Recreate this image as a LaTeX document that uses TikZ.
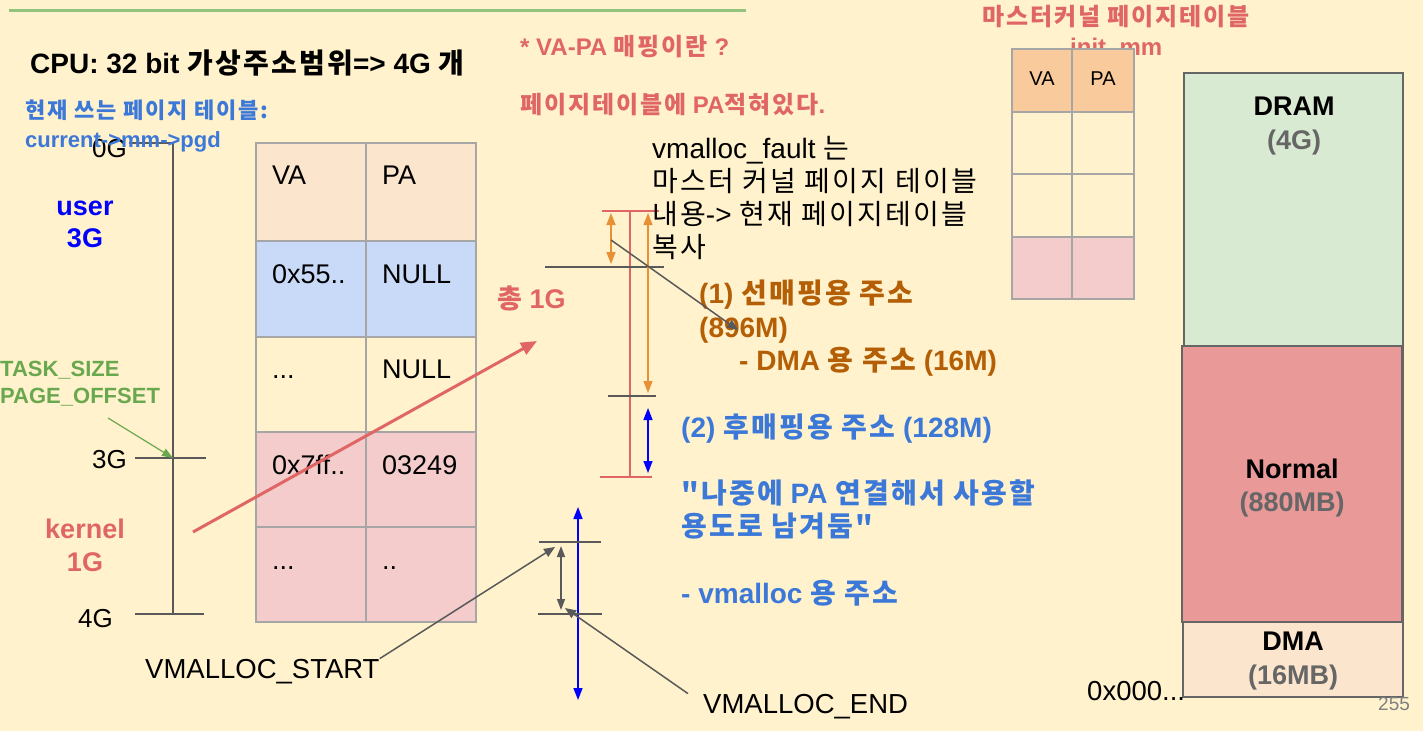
\documentclass[tikz,border=0pt]{standalone}
\usepackage{fontspec}
\setmainfont{Liberation Sans}
\newfontfamily\kr{Noto Sans CJK KR}[LetterSpace=8]
\usetikzlibrary{arrows.meta}

\newcommand\ko[1]{{\kr #1}}
\newcommand\px[1]{\fontsize{#1}{#1}\selectfont}

\definecolor{bg}{HTML}{FFF2CC}
\definecolor{rulegreen}{HTML}{93C47D}
\definecolor{textred}{HTML}{E06666}
\definecolor{textgreen}{HTML}{6AA84F}
\definecolor{textblue}{HTML}{3C78D8}
\definecolor{textorange}{HTML}{B45F06}
\definecolor{arroworange}{HTML}{E69138}
\definecolor{linegray}{HTML}{595959}
\definecolor{cellgray}{HTML}{A6A6A6}
\definecolor{hdrfill}{HTML}{FCE5CD}
\definecolor{bluefill}{HTML}{C9DAF8}
\definecolor{pinkfill}{HTML}{F4CCCC}
\definecolor{mhdrfill}{HTML}{F9CB9C}
\definecolor{dramfill}{HTML}{D9EAD3}
\definecolor{normalfill}{HTML}{EA9999}
\definecolor{boxgray}{HTML}{666666}

\tikzset{
  txt/.style={inner sep=0pt, anchor=base west},
  ctxt/.style={inner sep=0pt, anchor=base},
  rtxt/.style={inner sep=0pt, anchor=base east},
  tick/.style={draw=linegray, line width=1.5pt},
  cell/.style={draw=cellgray, line width=2pt},
  zone/.style={draw=boxgray, line width=2pt},
  pointer/.style={draw=linegray, line width=1.5pt, -{Triangle[length=11pt,width=9pt]}},
  span/.style={line width=1.5pt, {Triangle[length=12pt,width=9pt]}-{Triangle[length=12pt,width=9pt]}},
}

\begin{document}
\begin{tikzpicture}[x=1pt,y=-1pt]
  \useasboundingbox[fill=bg] (0,0) rectangle (1423,731);
  \draw[line width=3pt, rulegreen] (9,10) -- (746,10);

  % headings
  \node[txt, font=\bfseries\px{28}] (cpu) at (30,73) {CPU: 32 bit \ko{가상주소범위}=> 4G \ko{개}};
  \node[txt, font=\bfseries\px{22}, text=textblue] (curpt) at (25,118) {\ko{현재 쓰는 페이지 테이블:}};
  \node[txt, font=\bfseries\px{24}, text=textred] (vapa) at (520,55) {* VA-PA \ko{매핑이란} ?};
  \node[txt, font=\bfseries\px{24}, text=textred] (vapa2) at (520,113) {\ko{페이지테이블에} PA\ko{적혀있다}.};

  % address axis
  \coordinate (ax0) at (173,143);
  \coordinate (ax3) at (173,458);
  \coordinate (ax4) at (173,614);
  \draw[tick] (ax0) -- (ax4);
  \draw[tick] (129,143) -- (ax0);
  \draw[tick] (135,458) -- (206,458);
  \draw[tick] (135,614) -- (204,614);
  \node[rtxt, font=\px{26}] (g0) at (127,157) {0G};
  \node[rtxt, font=\px{26}] (g3) at (127,468) {3G};
  \node[rtxt, font=\px{26}] (g4) at (113,627) {4G};
  \node[txt, font=\bfseries\px{22}, text=textblue] (curpgd) at (25,147) {current->mm->pgd};

  \node[ctxt, font=\bfseries\px{27}, text=blue] (user) at (85,215) {user};
  \node[ctxt, font=\bfseries\px{27}, text=blue] (user3) at (85,247) {3G};
  \node[ctxt, font=\bfseries\px{27}, text=textred] (kern) at (85,538) {kernel};
  \node[ctxt, font=\bfseries\px{27}, text=textred] (kern1) at (85,571) {1G};

  \node[txt, font=\bfseries\px{22}, text=textgreen] (tsize) at (0,376) {TASK\_SIZE};
  \node[txt, font=\bfseries\px{22}, text=textgreen] (poff) at (0,403) {PAGE\_OFFSET};
  \coordinate (poffarr) at (108,418);
  \draw[textgreen, line width=1.2pt, -{Triangle[length=11pt,width=8pt]}] (poffarr) -- (ax3);

  % current page table
  \foreach \top/\bot/\col in {143/241/hdrfill, 241/337/bluefill, 337/432/bg, 432/527/pinkfill, 527/622/pinkfill} {
    \draw[cell, fill=\col] (256,\top) rectangle (366,\bot);
    \draw[cell, fill=\col] (366,\top) rectangle (476,\bot);
  }
  \node[txt, font=\px{27}] (va1) at (272,184) {VA};
  \node[txt, font=\px{27}] (pa1) at (382,184) {PA};
  \node[txt, font=\px{27}] (va2) at (272,283) {0x55..};
  \node[txt, font=\px{27}] (pa2) at (382,283) {NULL};
  \node[txt, font=\px{27}] (va3) at (272,378) {...};
  \node[txt, font=\px{27}] (pa3) at (382,378) {NULL};
  \node[txt, font=\px{27}] (va4) at (272,474) {0x7ff..};
  \node[txt, font=\px{27}] (pa4) at (382,474) {03249};
  \node[txt, font=\px{27}] (va5) at (272,569) {...};
  \node[txt, font=\px{27}] (pa5) at (382,569) {..};

  % kernel 1G blown up
  \coordinate (kfrom) at (193,532);
  \coordinate (kto) at (537,341);
  \draw[textred, line width=3pt, -{Triangle[length=16pt,width=13pt]}] (kfrom) -- (kto);
  \node[txt, font=\bfseries\px{27}, text=textred] (total) at (497,308) {\ko{총} 1G};

  \coordinate (ktop) at (630,211);
  \coordinate (kbot) at (630,477);
  \draw[textred, line width=2pt] (602,211) -- (659,211);
  \draw[textred, line width=2pt] (ktop) -- (kbot);
  \draw[textred, line width=2pt] (600,477) -- (652,477);
  \draw[tick] (545,267) -- (664,267);
  \draw[tick] (608,396) -- (656,396);
  \draw[span, arroworange] (611,213) -- (611,264);
  \draw[span, arroworange] (648,213) -- (648,393);
  \draw[span, blue] (648,408) -- (648,473);

  \node[txt, font=\px{28}] (fault) at (652,158) {vmalloc\_fault \ko{는}};
  \node[txt, font=\px{28}] (fault2) at (652,191) {\ko{마스터 커널 페이지 테이블}};
  \node[txt, font=\px{28}] (fault3) at (652,224) {\ko{내용}-> \ko{현재 페이지테이블}};
  \node[txt, font=\px{28}] (fault4) at (652,257) {\ko{복사}};

  \node[txt, font=\bfseries\px{28}, text=textorange] (pre1) at (699,303) {(1) \ko{선매핑용 주소}};
  \node[txt, font=\bfseries\px{28}, text=textorange] (pre2) at (699,337) {(896M)};
  \node[txt, font=\bfseries\px{28}, text=textorange] (pre3) at (739,370) {- DMA \ko{용 주소} (16M)};
  \coordinate (premid) at (611,240);
  \coordinate (pretip) at (738,330);
  \draw[pointer] (premid) -- (pretip);

  \node[txt, font=\bfseries\px{28}, text=textblue] (post1) at (681,437) {(2) \ko{후매핑용 주소} (128M)};
  \node[txt, font=\bfseries\px{28}, text=textblue] (post2) at (681,503) {\ko{"나중에} PA \ko{연결해서 사용할}};
  \node[txt, font=\bfseries\px{28}, text=textblue] (post3) at (681,536) {\ko{용도로 남겨둠"}};
  \node[txt, font=\bfseries\px{28}, text=textblue] (post4) at (681,603) {- vmalloc \ko{용 주소}};

  % vmalloc area
  \coordinate (vtop) at (561,546);
  \coordinate (vbot) at (561,610);
  \draw[span, blue] (578,507) -- (578,700);
  \draw[tick] (539,542) -- (601,542);
  \draw[tick] (538,614) -- (602,614);
  \draw[span, linegray, {Triangle[length=11pt,width=8pt]}-{Triangle[length=11pt,width=8pt]}] (vtop) -- (vbot);
  \node[txt, font=\px{27.5}] (vmstart) at (145,678) {VMALLOC\_START};
  \node[txt, font=\px{27.5}] (vmend) at (703,713) {VMALLOC\_END};
  \draw[pointer] (vmstart.north east) -- (555,547);
  \draw[pointer] ([xshift=-15pt]vmend.north west) -- (565,608);

  % master kernel page table
  \node[txt, font=\bfseries\px{24}, text=textred] (mtitle) at (982,25) {\ko{마스터커널 페이지테이블}};
  \node[txt, font=\bfseries\px{24}, text=textred] (initmm) at (1070,55) {init\_mm};
  \foreach \top/\bot/\col in {49/112/mhdrfill, 112/174/bg, 174/237/bg, 237/299/pinkfill} {
    \draw[cell, fill=\col] (1012,\top) rectangle (1072,\bot);
    \draw[cell, fill=\col] (1072,\top) rectangle (1134,\bot);
  }
  \node[ctxt, font=\px{20}] (mva) at (1042,85) {VA};
  \node[ctxt, font=\px{20}] (mpa) at (1103,85) {PA};

  % physical memory
  \draw[zone, fill=dramfill] (1184,73) rectangle (1403,697);
  \draw[zone, fill=normalfill] (1182,346) rectangle (1402,622);
  \draw[zone, fill=hdrfill] (1183,622) rectangle (1403,697);
  \node[ctxt, font=\bfseries\px{27}] (dram) at (1294,115) {DRAM};
  \node[ctxt, font=\bfseries\px{27}, text=boxgray] (dram2) at (1294,149) {(4G)};
  \node[ctxt, font=\bfseries\px{27}] (normal) at (1292,478) {Normal};
  \node[ctxt, font=\bfseries\px{27}, text=boxgray] (normal2) at (1292,511) {(880MB)};
  \node[ctxt, font=\bfseries\px{27}] (dma) at (1293,650) {DMA};
  \node[ctxt, font=\bfseries\px{27}, text=boxgray] (dma2) at (1293,684) {(16MB)};
  \node[txt, font=\px{27.5}] (zero) at (1087,700) {0x000...};
  \node[txt, font=\px{19}, text=gray] (page) at (1378,710) {255};
\end{tikzpicture}
\end{document}
